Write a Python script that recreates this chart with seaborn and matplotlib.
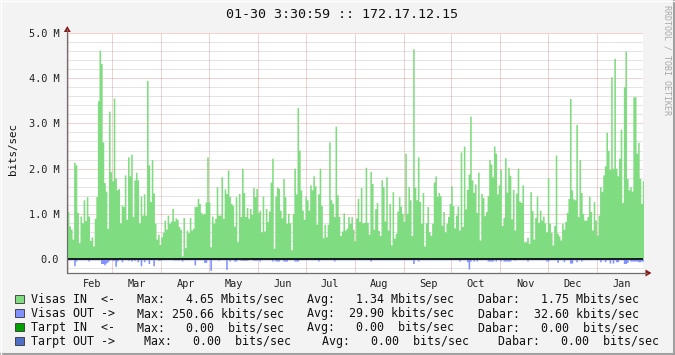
import numpy as np
import pandas as pd
import matplotlib
matplotlib.use("Agg")
import matplotlib.pyplot as plt
import seaborn as sns
from matplotlib.lines import Line2D
from matplotlib.patches import Rectangle, Polygon

# ---------------- data ----------------
title = "01-30 3:30:59 :: 172.17.12.15"
y_label = "bits/sec"
watermark = "RRDTOOL / TOBI OETIKER"
start = pd.Timestamp("2009-01-31 13:30")
month_labels = ["Feb", "Mar", "Apr", "May", "Jun", "Jul", "Aug", "Sep", "Oct", "Nov", "Dec", "Jan"]
y_tick_values = [0, 1, 2, 3, 4, 5]
y_tick_labels = ["0.0", "1.0 M", "2.0 M", "3.0 M", "4.0 M", "5.0 M"]

# daily averages, Mbit/s
visas_in = [
    1.05, 0.73, 0.66, 0.44, 2.14, 2.08, 1.03, 0.36, 0.95, 0.80,
    1.31, 0.85, 1.38, 0.95, 0.41, 0.49, 0.29, 0.90, 1.38, 3.50,
    4.62, 4.33, 2.59, 1.69, 1.50, 0.68, 3.27, 1.93, 1.73, 3.56,
    1.79, 1.53, 1.56, 0.80, 1.19, 1.16, 1.86, 0.88, 2.26, 1.84,
    2.32, 0.94, 1.75, 1.92, 1.75, 0.80, 1.39, 0.97, 1.44, 0.97,
    3.95, 2.08, 1.27, 2.20, 1.46, 0.79, 0.44, 0.55, 0.32, 0.49,
    0.59, 0.86, 0.66, 0.97, 0.79, 0.84, 1.12, 0.84, 0.91, 0.88,
    0.72, 0.66, 0.07, 0.92, 0.25, 0.64, 0.58, 0.92, 0.64, 0.68,
    1.16, 1.16, 1.34, 1.23, 1.03, 0.99, 1.01, 1.26, 2.26, 1.26,
    0.27, 0.95, 0.79, 0.90, 1.60, 0.97, 0.97, 1.82, 0.90, 1.55,
    1.45, 1.97, 1.39, 1.23, 1.19, 0.73, 1.38, 0.38, 1.45, 0.94,
    2.01, 1.47, 0.94, 1.14, 0.90, 1.12, 0.99, 1.58, 1.38, 1.56,
    1.03, 1.08, 0.60,
    1.39, 0.62, 1.12, 0.83, 1.06, 1.70, 2.23, 0.24, 1.39, 1.59,
    1.56, 1.08, 0.91, 1.78, 1.38, 0.79, 1.01, 0.80, 0.20, 1.00,
    2.01, 1.44, 3.35, 2.41, 1.53, 1.08, 0.88, 1.39, 1.31, 1.08,
    1.64, 1.53, 1.84, 1.62, 0.77, 1.44, 2.01, 1.18, 0.47, 0.77,
    0.49, 0.77, 2.59, 1.31, 1.23, 0.94, 2.94, 1.42, 0.94, 0.52,
    0.62, 1.02, 0.64, 0.68, 0.94, 0.79, 0.94, 0.66, 0.40, 0.91,
    1.34, 0.83, 1.58, 0.80, 0.81, 2.03, 0.81, 0.55, 1.94, 1.67,
    0.66, 1.11, 1.25, 0.63, 0.52, 1.75, 1.60, 0.84, 1.82, 0.64,
    1.23, 0.31, 1.49, 0.46, 0.57, 1.06, 1.38, 1.17, 1.01, 0.83,
    2.34, 1.01, 1.60, 1.31, 0.52, 4.65, 1.59, 1.31, 2.26, 1.27,
    0.79, 1.47, 0.29, 0.80, 1.16, 0.60, 0.52, 0.79, 1.70, 1.84,
    1.39, 1.47, 1.40, 0.75, 1.05, 0.60, 0.79, 0.94, 1.23,
    1.62, 1.18, 0.69, 0.97, 1.17, 0.64, 2.37, 0.72, 2.50, 1.11,
    1.54, 1.88, 3.16, 1.75, 1.47, 1.66, 1.03, 1.92, 0.42, 1.45,
    1.36, 0.96, 1.05, 1.40, 2.20, 2.10, 1.82, 2.50, 2.34, 1.44,
    1.64, 1.98, 0.74, 0.92, 2.24, 1.48, 2.03, 1.85, 0.89, 1.54,
    0.64, 1.46, 2.01, 1.28, 1.25, 1.64, 0.38, 0.38, 0.48, 0.35,
    1.49, 1.07, 0.44, 0.92, 1.39, 0.81, 1.08, 0.86, 0.95, 0.80,
    0.60, 1.80, 0.79, 0.59, 0.31, 0.74, 2.30, 0.57, 0.51, 0.42,
    0.79, 0.66, 0.83, 1.03, 1.34, 3.55, 1.53, 1.33, 1.31, 2.98,
    0.94, 2.20, 1.47, 1.01, 0.86, 0.86, 0.94, 1.39, 1.05, 0.64,
    1.27, 0.86, 0.53, 0.97, 1.60, 1.49, 1.86, 2.06, 2.80, 2.40,
    1.98, 4.03, 2.01, 4.44, 2.01, 1.84, 2.23, 2.87, 1.25, 3.81,
    4.60, 1.78, 1.53, 1.60, 1.50, 3.59, 3.59, 2.34, 2.58, 1.78,
    1.23, 1.73,
]

visas_out = [
    0.02, 0.02, 0.02, 0.02, 0.15, 0.045, 0.02, 0.02, 0.02, 0.02,
    0.02, 0.02, 0.02, 0.045, 0.02, 0.02, 0.02, 0.02, 0.02, 0.02,
    0.02, 0.10, 0.10, 0.13, 0.09, 0.06, 0.03, 0.02, 0.03, 0.03,
    0.16, 0.045, 0.02, 0.02, 0.06, 0.02, 0.02, 0.02, 0.03, 0.02,
    0.045, 0.02, 0.03, 0.02, 0.06, 0.02, 0.15, 0.02, 0.06, 0.02,
    0.02, 0.10, 0.02, 0.02, 0.15, 0.02, 0.02, 0.03, 0.03, 0.02,
    0.02, 0.02, 0.02, 0.02, 0.02, 0.02, 0.02, 0.025, 0.025, 0.025,
    0.025, 0.02, 0.045, 0.02, 0.02, 0.02, 0.02, 0.02, 0.02, 0.02,
    0.13, 0.02, 0.02, 0.02, 0.02, 0.02, 0.075, 0.075, 0.02, 0.02,
    0.25, 0.02, 0.02, 0.02, 0.02, 0.03, 0.02, 0.02, 0.02, 0.02,
    0.23, 0.02, 0.045, 0.02, 0.02, 0.045, 0.045, 0.02, 0.02, 0.03,
    0.03, 0.03, 0.03, 0.03, 0.02, 0.02, 0.02, 0.03, 0.03, 0.03,
    0.02, 0.045, 0.02, 0.02, 0.02, 0.02, 0.02, 0.02, 0.02, 0.045,
    0.02, 0.045, 0.045, 0.045, 0.02, 0.02, 0.045, 0.045, 0.045, 0.02,
    0.02, 0.02, 0.02, 0.045, 0.045, 0.045, 0.02, 0.02, 0.02, 0.02,
    0.02, 0.02, 0.02, 0.02, 0.02, 0.02, 0.02, 0.02, 0.045, 0.02,
    0.02, 0.02, 0.02, 0.02, 0.02, 0.02, 0.02, 0.02, 0.045, 0.02,
    0.02, 0.02, 0.02, 0.02, 0.02, 0.02, 0.02, 0.02, 0.02, 0.02,
    0.02, 0.02, 0.02, 0.02, 0.02, 0.02, 0.02, 0.02, 0.02, 0.02,
    0.02, 0.045, 0.02, 0.02, 0.02, 0.02, 0.02, 0.02, 0.02, 0.02,
    0.02, 0.02, 0.02, 0.02, 0.02, 0.02, 0.02, 0.02, 0.02, 0.02,
    0.02, 0.02, 0.02, 0.02, 0.02, 0.02, 0.02, 0.02, 0.10, 0.02,
    0.02, 0.045, 0.02, 0.02, 0.02, 0.02, 0.02, 0.02, 0.02, 0.02,
    0.02, 0.02, 0.02, 0.02, 0.02, 0.02, 0.02, 0.02, 0.02, 0.02,
    0.02, 0.02, 0.02, 0.02, 0.02, 0.02, 0.02, 0.045, 0.02, 0.02,
    0.02, 0.02, 0.06, 0.22, 0.045, 0.02, 0.045, 0.02, 0.045, 0.02,
    0.02, 0.02, 0.02, 0.02, 0.02, 0.045, 0.045, 0.045, 0.045, 0.02,
    0.045, 0.02, 0.02, 0.045, 0.02, 0.045, 0.045, 0.045, 0.045, 0.045,
    0.02, 0.02, 0.03, 0.02, 0.02, 0.02, 0.02, 0.02, 0.02, 0.02,
    0.045, 0.02, 0.02, 0.02, 0.02, 0.02, 0.02, 0.02, 0.02, 0.02,
    0.02, 0.02, 0.045, 0.045, 0.02, 0.02, 0.02, 0.02, 0.02, 0.075,
    0.02, 0.02, 0.02, 0.06, 0.02, 0.02, 0.02, 0.09, 0.09, 0.02,
    0.02, 0.06, 0.02, 0.02, 0.045, 0.02, 0.02, 0.02, 0.02, 0.02,
    0.02, 0.02, 0.02, 0.02, 0.02, 0.02, 0.06, 0.02, 0.02, 0.06,
    0.02, 0.02, 0.09, 0.02, 0.09, 0.02, 0.06, 0.06, 0.02, 0.02,
    0.02, 0.10, 0.10, 0.075, 0.02, 0.045, 0.045, 0.045, 0.045, 0.045,
    0.06, 0.06, 0.045, 0.045,
]

legend_names = ["Visas IN  <-", "Visas OUT ->", "Tarpt IN  <-", "Tarpt OUT ->"]
legend_max = ["Max:   4.65 Mbits/sec", "Max: 250.66 kbits/sec", "Max:   0.00  bits/sec", "Max:   0.00  bits/sec"]
legend_avg = ["Avg:   1.34 Mbits/sec", "Avg:  29.90 kbits/sec", "Avg:   0.00  bits/sec", "Avg:   0.00  bits/sec"]
legend_last = ["Dabar:   1.75 Mbits/sec", "Dabar:  32.60 kbits/sec", "Dabar:   0.00  bits/sec", "Dabar:   0.00  bits/sec"]

# ---------------- style ----------------
C_IN = "#80DC80"
C_OUT = "#8090FF"
C_TIN = "#00A000"
C_TOUT = "#5070C8"
C_BG = "#F3F3F3"
C_AXIS = "#6E6E6E"
C_ARROW = "#8B1414"
MGRID = (0.85, 0.35, 0.35, 0.55)
GRID = (0.55, 0.55, 0.55, 0.45)
MONO = "DejaVu Sans Mono"

sns.set_style("white")
plt.rcParams["font.family"] = [MONO, "DejaVu Sans"]

W, H = 675, 355
fig = plt.figure(figsize=(W / 100, H / 100), dpi=100, facecolor=C_BG)

def fx(x):
    return x / W

def fy(y):
    return 1 - y / H

L, R, T, B = 67.3, 643.3, 33.0, 273.0
ax = fig.add_axes([fx(L), fy(B), fx(R) - fx(L), fy(T) - fy(B)])
ax.set_facecolor("white")

n = len(visas_in)
days = np.arange(n) + 0.5
df = pd.DataFrame({"day": days, "in": visas_in, "out": -np.asarray(visas_out)})

# grid behind the data
for v in np.arange(-0.2, 5.01, 0.2):
    if abs(v - round(v)) < 1e-6:
        continue
    ax.axhline(v, color=GRID, lw=0.72, dashes=(1, 1), zorder=0.5)

sns.histplot(data=df, x="day", weights="in", bins=n, binrange=(0, n), element="step", fill=True,
             color=C_IN, alpha=1, linewidth=0, ax=ax, zorder=2)
sns.histplot(data=df, x="day", weights="out", bins=n, binrange=(0, n), element="step", fill=True,
             color=C_OUT, alpha=1, linewidth=0, ax=ax, zorder=2)

ax.set_xlim(0, n - 0.4)
ax.set_ylim(-0.31, 5.0)

# month grid / labels from calendar
bounds = [(pd.Timestamp(2009, m, 1) - start) / pd.Timedelta(days=1) for m in range(2, 13)]
bounds.append((pd.Timestamp(2010, 1, 1) - start) / pd.Timedelta(days=1))
mids = [b + 15.5 for b in bounds]

ax.set_xticks(bounds)
ax.set_xticklabels([])
ax.set_xticks(mids, minor=True)
ax.set_xticklabels(month_labels, minor=True, fontsize=7.4, family=MONO, color="#222222")
ax.tick_params(axis="x", which="major", length=2.2, width=0.72, color=(0.8, 0.3, 0.3), direction="out")
ax.tick_params(axis="x", which="minor", length=0, pad=4.2)

ax.set_yticks(y_tick_values)
ax.set_yticklabels(y_tick_labels, fontsize=7.4, family=MONO, color="#222222")
ax.set_yticks(np.arange(-0.2, 5.0, 0.2), minor=True)
ax.tick_params(axis="y", which="major", length=2.2, width=0.72, color=(0.8, 0.3, 0.3), pad=3.6)
ax.tick_params(axis="y", which="minor", length=1.6, width=0.72, color="#A0A0A0")

for v in y_tick_values[1:]:
    ax.axhline(v, color=MGRID, lw=0.72, dashes=(1, 1), zorder=0.6)
for b in bounds:
    ax.axvline(b, color=MGRID, lw=0.72, dashes=(1, 1), zorder=0.6)

ax.axhline(0, color="black", lw=1.2, zorder=7)
ax.set_xlabel("")
ax.set_ylabel("")
for s in ax.spines.values():
    s.set_visible(False)

# axis lines with arrows
fig.add_artist(Line2D([fx(L), fx(L)], [fy(B), fy(29)], color=C_AXIS, lw=0.9))
fig.add_artist(Line2D([fx(L), fx(647)], [fy(B), fy(B)], color=C_AXIS, lw=0.9))
fig.add_artist(Polygon([[fx(L - 3.5), fy(32)], [fx(L + 3.5), fy(32)], [fx(L), fy(26)]],
                       closed=True, color=C_ARROW, lw=0))
fig.add_artist(Polygon([[fx(645.5), fy(B - 3.5)], [fx(645.5), fy(B + 3.5)], [fx(651.5), fy(B)]],
                       closed=True, color=C_ARROW, lw=0))

# title, axis label, watermark
fig.text(fx(341.5), fy(14), title, ha="center", va="center", fontsize=9.6, family=MONO, color="#111111")
fig.text(fx(13), fy(149), y_label, ha="center", va="center", rotation=90, fontsize=7.8,
         family=MONO, color="#111111")
fig.text(fx(667), fy(5), watermark, ha="center", va="top", rotation=270, fontsize=6.0,
         family=MONO, color="#A8A8A8")

# legend
box_colors = [C_IN, C_OUT, C_TIN, C_TOUT]
baselines = [303.0, 317.2, 331.2, 345.0]
max_x = [137.3, 137.3, 137.3, 144.3]
avg_x = [307.3, 307.3, 307.3, 321.7]
last_x = [477.7, 477.7, 477.7, 498.3]
for i in range(4):
    yb = baselines[i]
    fig.add_artist(Rectangle((fx(15.3), fy(yb)), 8.4 / W, 8.4 / H, facecolor=box_colors[i],
                             edgecolor="#333333", lw=0.6))
    kw = dict(ha="left", va="baseline", fontsize=8.34, family=MONO, color="#111111")
    fig.text(fx(30.7), fy(yb), legend_names[i], **kw)
    fig.text(fx(max_x[i]), fy(yb), legend_max[i], **kw)
    fig.text(fx(avg_x[i]), fy(yb), legend_avg[i], **kw)
    fig.text(fx(last_x[i]), fy(yb), legend_last[i], **kw)

# frame shading
fig.add_artist(Line2D([0, 1], [fy(353.5), fy(353.5)], color="#A0A0A0", lw=2.2))
fig.add_artist(Line2D([fx(673.5), fx(673.5)], [0, 1], color="#A0A0A0", lw=2.2))
fig.add_artist(Line2D([0, 1], [fy(0.5), fy(0.5)], color="#FFFFFF", lw=1))
fig.add_artist(Line2D([fx(0.5), fx(0.5)], [0, 1], color="#FFFFFF", lw=1))

fig.savefig("out.png", dpi=100, facecolor=C_BG)
